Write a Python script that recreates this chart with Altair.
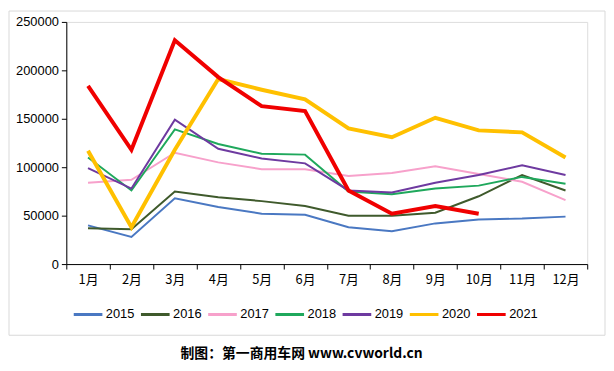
import altair as alt
import pandas as pd

months = ["1月", "2月", "3月", "4月", "5月", "6月", "7月", "8月", "9月", "10月", "11月", "12月"]
years = ["2015", "2016", "2017", "2018", "2019", "2020", "2021"]
v2015 = [40000, 28000, 68000, 59000, 52000, 51000, 38000, 34000, 42000, 46000, 47000, 49000]
v2016 = [37000, 36000, 75000, 69000, 65000, 60000, 50000, 50000, 53000, 70000, 92000, 76000]
v2017 = [84000, 87000, 115000, 105000, 98000, 98000, 91000, 94000, 101000, 93000, 85000, 66000]
v2018 = [110000, 76000, 139000, 124000, 114000, 113000, 75000, 72000, 78000, 81000, 90000, 83000]
v2019 = [99000, 78000, 149000, 119000, 109000, 104000, 76000, 74000, 84000, 92000, 102000, 92000]
v2020 = [117000, 38000, 118000, 191000, 180000, 170000, 140000, 131000, 151000, 138000, 136000, 110000]
v2021 = [184000, 118000, 231000, 193000, 163000, 158000, 76000, 52000, 60000, 52000]
colors = ["#4A78C2", "#3F5A2C", "#F7A1CB", "#1FA85C", "#6E3AA0", "#FFC000", "#F00000"]
footnote = "制图：第一商用车网 www.cvworld.cn"

series = [v2015, v2016, v2017, v2018, v2019, v2020, v2021]
rows = []
for yi, (yr, vals) in enumerate(zip(years, series)):
    for mi, v in enumerate(vals):
        rows.append({"month": months[mi], "year": yr, "value": v})
df = pd.DataFrame(rows)

legend = alt.Legend(
    title=None, orient="none", legendX=6, legendY=280, direction="horizontal",
    symbolType="stroke", symbolSize=841, symbolStrokeWidth=3,
    labelFont="Liberation Sans", labelFontSize=13,
    labelFontWeight="normal", labelColor="#000000", labelOffset=2, columnPadding=0,
)

lines = alt.Chart(df).mark_line().encode(
    x=alt.X("month:O", sort=months,
            scale=alt.Scale(type="band", paddingInner=0, paddingOuter=0),
            axis=alt.Axis(title=None, labelAngle=0, tickBand="extent", labelFont="Noto Sans CJK SC",
                          labelFontSize=13, labelColor="#000000", labelPadding=5, tickSize=5,
                          domainColor="#000000", tickColor="#000000")),
    y=alt.Y("value:Q", scale=alt.Scale(domain=[0, 250000]),
            axis=alt.Axis(title=None, values=[0, 50000, 100000, 150000, 200000, 250000], format="d",
                          grid=False, labelFont="Liberation Sans", labelFontSize=13,
                          labelColor="#000000", tickSize=5, labelPadding=3,
                          domainColor="#000000", tickColor="#000000")),
    color=alt.Color("year:N", scale=alt.Scale(domain=years, range=colors), legend=legend),
    strokeWidth=alt.condition("datum.year >= '2020'", alt.value(4), alt.value(2)),
    detail="year:N",
)

frame = alt.Chart(pd.DataFrame({"a": [0]})).mark_rect(fillOpacity=0, stroke="#D9D9D9", strokeWidth=1).encode(
    x=alt.value(-58), x2=alt.value(545), y=alt.value(-11), y2=alt.value(317)
)

note = alt.Chart(pd.DataFrame({"t": [footnote]})).mark_text(
    font="Noto Sans CJK SC", fontSize=14, fontWeight="bold", color="#000000", align="center", baseline="middle"
).encode(text="t:N", x=alt.value(238), y=alt.value(336))

chart = alt.layer(frame, lines, note).properties(
    width=527, height=245,
    padding={"left": 59, "top": 12, "right": 19, "bottom": 98},
    autosize=alt.AutoSizeParams(type="none"),
).configure_view(stroke=None).configure(background="#FFFFFF")

chart.save("out.html", embed_options={"renderer": "svg", "actions": False})
